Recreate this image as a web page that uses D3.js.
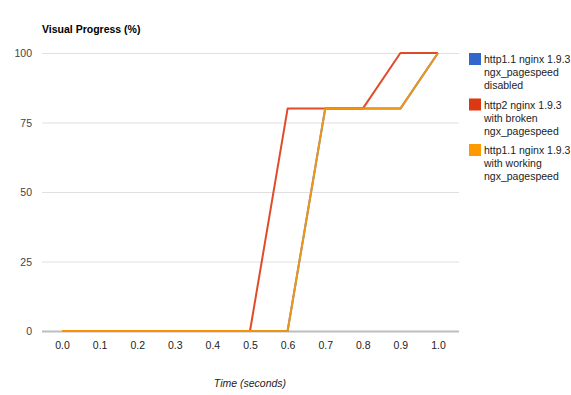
<!DOCTYPE html>
<html>
<head>
<meta charset="utf-8">
<script src="https://cdn.jsdelivr.net/npm/d3@7"></script>
<style>
  body { margin: 0; background: #fff; }
  svg text { font-family: Arial, "Liberation Sans", sans-serif; }
</style>
</head>
<body>
<div id="chart"></div>
<script>
// Data
var times = [0.0, 0.1, 0.2, 0.3, 0.4, 0.5, 0.6, 0.7, 0.8, 0.9, 1.0];
var http1Disabled = [0, 0, 0, 0, 0, 0, 0, 80, 80, 80, 100];
var http2Broken   = [0, 0, 0, 0, 0, 0, 80, 80, 80, 100, 100];
var http1Working  = [0, 0, 0, 0, 0, 0, 0, 80, 80, 80, 100];
var yTicks = [0, 25, 50, 75, 100];
var seriesNames = [
  ['http1.1 nginx 1.9.3', 'ngx_pagespeed', 'disabled'],
  ['http2 nginx 1.9.3', 'with broken', 'ngx_pagespeed'],
  ['http1.1 nginx 1.9.3', 'with working', 'ngx_pagespeed']
];
var colors = ['#3366cc', '#dc3912', '#ff9900'];

var series = [http1Disabled, http2Broken, http1Working].map(function(vals, i){
  return { name: seriesNames[i], color: colors[i],
           pts: vals.map(function(v, j){ return [times[j], v]; }) };
});

var W = 571, H = 395;
var svg = d3.select('#chart').append('svg')
    .attr('width', W)
    .attr('height', H);

var x = d3.scaleLinear().domain([0, 1]).range([62, 438]);
var y = d3.scaleLinear().domain([0, 100]).range([331, 53]);
var gridLeft = 42, gridRight = 459;

// Gridlines
svg.append('g').selectAll('line').data(yTicks.filter(function(d){ return d > 0; }))
  .enter().append('line')
    .attr('x1', gridLeft).attr('x2', gridRight)
    .attr('y1', function(d){ return y(d) + 0.5; })
    .attr('y2', function(d){ return y(d) + 0.5; })
    .attr('stroke', '#e0e0e0')
    .attr('stroke-width', 1);

// Y labels
svg.append('g').selectAll('text').data(yTicks)
  .enter().append('text')
    .attr('x', 32)
    .attr('y', function(d){ return y(d) + 4; })
    .attr('text-anchor', 'end')
    .attr('font-size', 10.5)
    .attr('fill', '#444')
    .text(function(d){ return d; });

// Baseline
svg.append('line')
    .attr('x1', gridLeft).attr('x2', gridRight)
    .attr('y1', y(0) + 0.5).attr('y2', y(0) + 0.5)
    .attr('stroke', '#bdbdbd')
    .attr('stroke-width', 2);

// X axis labels
var xAxis = d3.axisBottom(x).tickValues(times).tickFormat(d3.format('.1f')).tickSize(0).tickPadding(0);
var gx = svg.append('g')
    .attr('transform', 'translate(0,' + 349 + ')')
    .call(xAxis);
gx.select('.domain').remove();
gx.selectAll('text')
    .attr('dy', 0)
    .attr('font-size', 10.5)
    .attr('font-family', 'Arial, "Liberation Sans", sans-serif')
    .attr('fill', '#222');

// Lines
var line = d3.line()
    .x(function(d){ return x(d[0]); })
    .y(function(d){ return y(d[1]); });

svg.append('g').selectAll('path').data(series)
  .enter().append('path')
    .attr('d', function(d){ return line(d.pts); })
    .attr('fill', 'none')
    .attr('stroke', function(d){ return d.color; })
    .attr('stroke-width', 2)
    .attr('stroke-opacity', 0.9)
    .attr('stroke-linejoin', 'round');

// Title
svg.append('text')
    .attr('x', 42).attr('y', 33)
    .attr('font-size', 10.5)
    .attr('font-weight', 'bold')
    .attr('fill', '#000')
    .text('Visual Progress (%)');

// X title
svg.append('text')
    .attr('x', x(0.5)).attr('y', 387)
    .attr('text-anchor', 'middle')
    .attr('font-size', 10.5)
    .attr('font-style', 'italic')
    .attr('fill', '#222')
    .text('Time (seconds)');

// Legend
var lg = svg.append('g').selectAll('g').data(series)
  .enter().append('g')
    .attr('transform', function(d, i){ return 'translate(469,' + (53 + i * 45.5) + ')'; });

lg.append('rect')
    .attr('width', 12).attr('height', 12)
    .attr('fill', function(d){ return d.color; });

lg.selectAll('text').data(function(d){ return d.name; })
  .enter().append('text')
    .attr('x', 15)
    .attr('y', function(d, i){ return 10 + i * 13; })
    .attr('font-size', 10.5)
    .attr('fill', '#222')
    .text(function(d){ return d; });
</script>
</body>
</html>
